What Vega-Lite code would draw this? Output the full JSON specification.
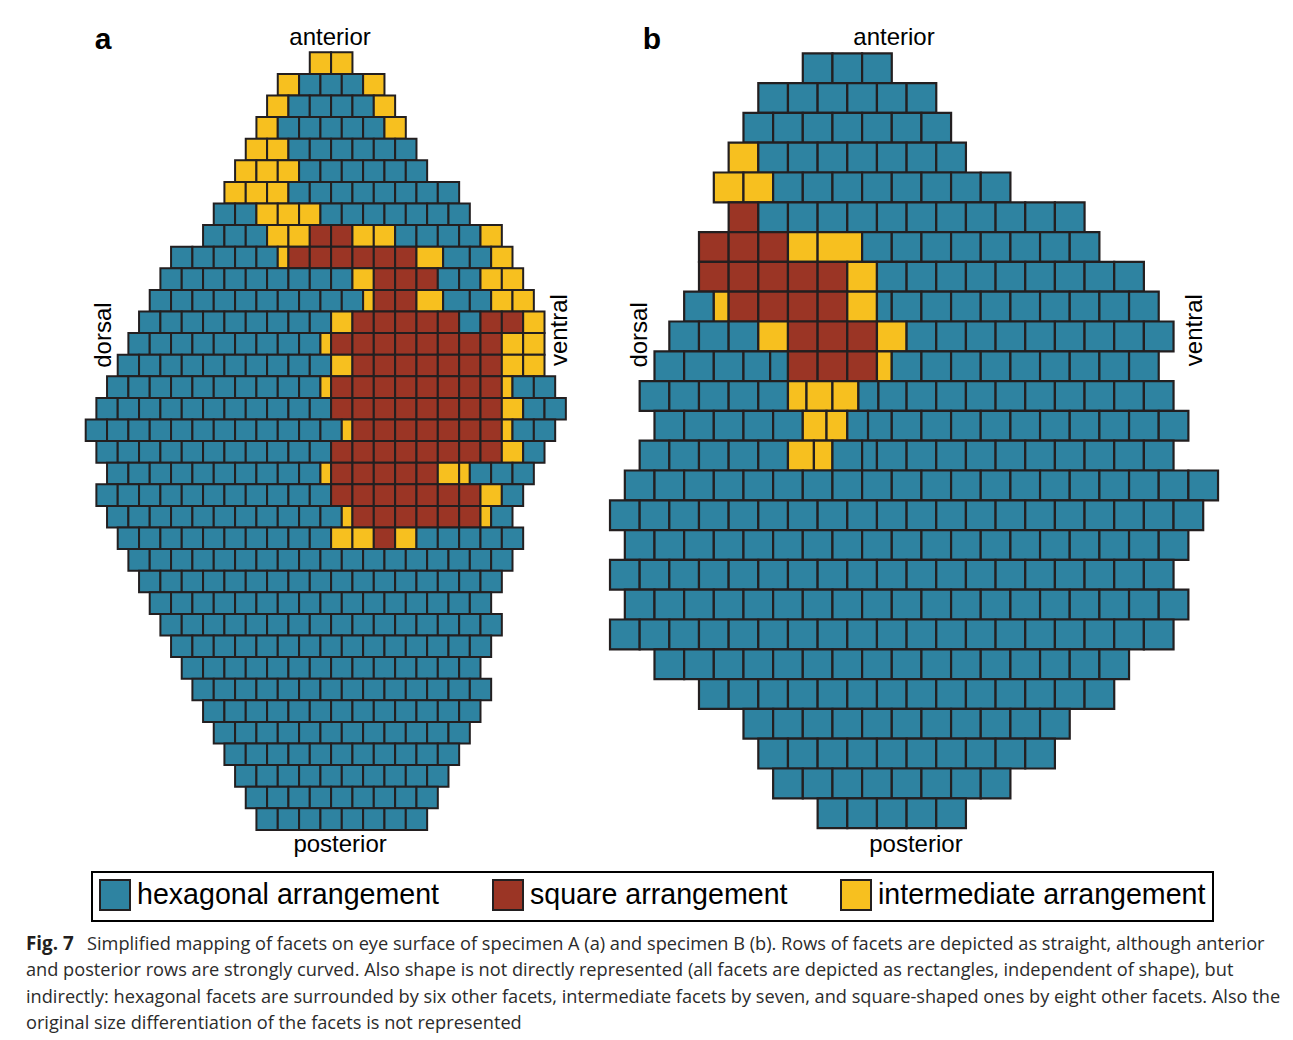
{
"$schema":"https://vega.github.io/schema/vega-lite/v6.json",
"padding":0,
"background":"white",
"config":{"view":{"stroke":null},"font":"Liberation Sans","legend":{"strokeWidth":2}},
"title":{"text":["and posterior rows are strongly curved. Also shape is not directly represented (all facets are depicted as rectangles, independent of shape), but","indirectly: hexagonal facets are surrounded by six other facets, intermediate facets by seven, and square-shaped ones by eight other facets. Also the","original size differentiation of the facets is not represented"],"orient":"bottom","anchor":"start","dx":26,"offset":8.3,"font":"Open Sans","fontSize":18.2,"fontWeight":"normal","color":"#2b2b2b","lineHeight":26.5},
"spacing":0,
"vconcat":[
{"title":{"text":"Simplified mapping of facets on eye surface of specimen A (a) and specimen B (b). Rows of facets are depicted as straight, although anterior","orient":"bottom","anchor":"start","dx":87,"offset":-18.2,"font":"Open Sans","fontSize":18.2,"fontWeight":"normal","color":"#2b2b2b"},
 "spacing":0,
 "vconcat":[
{"title":{"text":"Fig. 7","orient":"bottom","anchor":"start","dx":26,"offset":75,"font":"Open Sans","fontSize":18.8,"fontWeight":"bold","color":"#231f20"},
"spacing":0,
"hconcat":[
{"width":590,"height":860,
 "layer":[
  {"data":{"name":"a"},"mark":{"type":"rect","height":21.6,"stroke":"#231f20","strokeWidth":2},
   "encoding":{
    "x":{"field":"x","type":"quantitative","scale":{"domain":[-8.032,47.263],"nice":false,"zero":false},"axis":null},
    "x2":{"field":"x2"},
    "y":{"field":"r","type":"quantitative","scale":{"domain":[-2.921,36.894],"reverse":true,"nice":false,"zero":false},"axis":null},
    "color":{"field":"k","type":"nominal","scale":{"domain":["H","S","I"],"range":["#2e83a1","#9b3525","#f7c01f"]},
      "legend":{"orient":"none","legendX":92,"legendY":872,"direction":"horizontal","title":null,"symbolType":"square","symbolSize":900,"symbolStrokeColor":"#231f20","symbolStrokeWidth":2,"symbolOpacity":1,"labelFont":"Liberation Sans","labelFontSize":28.6,"labelColor":"#000","labelOffset":6,"labelLimit":0,"columnPadding":49,"padding":7,"strokeColor":"#000","labelExpr":"datum.label == 'H' ? 'hexagonal arrangement' : datum.label == 'S' ? 'square arrangement' : 'intermediate arrangement'"}}
   }},
  {"data":{"name":"la"},"transform":[{"filter":"datum.g == 'id'"}],"mark":{"type":"text","font":"Liberation Sans","fontSize":30,"fontWeight":"bold","align":"center","baseline":"alphabetic","color":"#000"},
   "encoding":{"x":{"field":"x","type":"quantitative","scale":{"domain":[-8.032,47.263],"nice":false,"zero":false},"axis":null},"y":{"field":"r","type":"quantitative","scale":{"domain":[-2.921,36.894],"reverse":true,"nice":false,"zero":false},"axis":null},"text":{"field":"t"}}},
  {"data":{"name":"la"},"transform":[{"filter":"datum.g == 'ap'"}],"mark":{"type":"text","font":"Liberation Sans","fontSize":24,"align":"center","baseline":"alphabetic","color":"#000"},
   "encoding":{"x":{"field":"x","type":"quantitative","scale":{"domain":[-8.032,47.263],"nice":false,"zero":false},"axis":null},"y":{"field":"r","type":"quantitative","scale":{"domain":[-2.921,36.894],"reverse":true,"nice":false,"zero":false},"axis":null},"text":{"field":"t"}}},
  {"data":{"name":"la"},"transform":[{"filter":"datum.g == 'dv'"}],"mark":{"type":"text","font":"Liberation Sans","fontSize":24,"angle":270,"align":"center","baseline":"middle","color":"#000"},
   "encoding":{"x":{"field":"x","type":"quantitative","scale":{"domain":[-8.032,47.263],"nice":false,"zero":false},"axis":null},"y":{"field":"r","type":"quantitative","scale":{"domain":[-2.921,36.894],"reverse":true,"nice":false,"zero":false},"axis":null},"text":{"field":"t"}}}
 ]},
{"width":703,"height":860,
 "layer":[
  {"data":{"name":"b"},"mark":{"type":"rect","height":29.8,"stroke":"#231f20","strokeWidth":2.2},
   "encoding":{
    "x":{"field":"x","type":"quantitative","scale":{"domain":[-1.349,46.055],"nice":false,"zero":false},"axis":null},
    "x2":{"field":"x2"},
    "y":{"field":"r","type":"quantitative","scale":{"domain":[-2.289,26.57],"reverse":true,"nice":false,"zero":false},"axis":null},
    "color":{"field":"k","type":"nominal","scale":{"domain":["H","S","I"],"range":["#2e83a1","#9b3525","#f7c01f"]}}
   }},
  {"data":{"name":"lb"},"transform":[{"filter":"datum.g == 'id'"}],"mark":{"type":"text","font":"Liberation Sans","fontSize":30,"fontWeight":"bold","align":"center","baseline":"alphabetic","color":"#000"},
   "encoding":{"x":{"field":"x","type":"quantitative","scale":{"domain":[-1.349,46.055],"nice":false,"zero":false},"axis":null},"y":{"field":"r","type":"quantitative","scale":{"domain":[-2.289,26.57],"reverse":true,"nice":false,"zero":false},"axis":null},"text":{"field":"t"}}},
  {"data":{"name":"lb"},"transform":[{"filter":"datum.g == 'ap'"}],"mark":{"type":"text","font":"Liberation Sans","fontSize":24,"align":"center","baseline":"alphabetic","color":"#000"},
   "encoding":{"x":{"field":"x","type":"quantitative","scale":{"domain":[-1.349,46.055],"nice":false,"zero":false},"axis":null},"y":{"field":"r","type":"quantitative","scale":{"domain":[-2.289,26.57],"reverse":true,"nice":false,"zero":false},"axis":null},"text":{"field":"t"}}},
  {"data":{"name":"lb"},"transform":[{"filter":"datum.g == 'dv'"}],"mark":{"type":"text","font":"Liberation Sans","fontSize":24,"angle":270,"align":"center","baseline":"middle","color":"#000"},
   "encoding":{"x":{"field":"x","type":"quantitative","scale":{"domain":[-1.349,46.055],"nice":false,"zero":false},"axis":null},"y":{"field":"r","type":"quantitative","scale":{"domain":[-2.289,26.57],"reverse":true,"nice":false,"zero":false},"axis":null},"text":{"field":"t"}}}
 ]}
]}
]}
],
"datasets":{
"a":[
{"r":0,"x":21,"x2":23,"k":"I"},{"r":0,"x":23,"x2":25,"k":"I"},
{"r":1,"x":18,"x2":20,"k":"I"},{"r":1,"x":20,"x2":22,"k":"H"},{"r":1,"x":22,"x2":24,"k":"H"},{"r":1,"x":24,"x2":26,"k":"H"},{"r":1,"x":26,"x2":28,"k":"I"},
{"r":2,"x":17,"x2":19,"k":"I"},{"r":2,"x":19,"x2":21,"k":"H"},{"r":2,"x":21,"x2":23,"k":"H"},{"r":2,"x":23,"x2":25,"k":"H"},{"r":2,"x":25,"x2":27,"k":"H"},{"r":2,"x":27,"x2":29,"k":"I"},
{"r":3,"x":16,"x2":18,"k":"I"},{"r":3,"x":18,"x2":20,"k":"H"},{"r":3,"x":20,"x2":22,"k":"H"},{"r":3,"x":22,"x2":24,"k":"H"},{"r":3,"x":24,"x2":26,"k":"H"},{"r":3,"x":26,"x2":28,"k":"H"},{"r":3,"x":28,"x2":30,"k":"I"},
{"r":4,"x":15,"x2":17,"k":"I"},{"r":4,"x":17,"x2":19,"k":"I"},{"r":4,"x":19,"x2":21,"k":"H"},{"r":4,"x":21,"x2":23,"k":"H"},{"r":4,"x":23,"x2":25,"k":"H"},{"r":4,"x":25,"x2":27,"k":"H"},{"r":4,"x":27,"x2":29,"k":"H"},{"r":4,"x":29,"x2":31,"k":"H"},
{"r":5,"x":14,"x2":16,"k":"I"},{"r":5,"x":16,"x2":18,"k":"I"},{"r":5,"x":18,"x2":20,"k":"I"},{"r":5,"x":20,"x2":22,"k":"H"},{"r":5,"x":22,"x2":24,"k":"H"},{"r":5,"x":24,"x2":26,"k":"H"},{"r":5,"x":26,"x2":28,"k":"H"},{"r":5,"x":28,"x2":30,"k":"H"},{"r":5,"x":30,"x2":32,"k":"H"},
{"r":6,"x":13,"x2":15,"k":"I"},{"r":6,"x":15,"x2":17,"k":"I"},{"r":6,"x":17,"x2":19,"k":"I"},{"r":6,"x":19,"x2":21,"k":"H"},{"r":6,"x":21,"x2":23,"k":"H"},{"r":6,"x":23,"x2":25,"k":"H"},{"r":6,"x":25,"x2":27,"k":"H"},{"r":6,"x":27,"x2":29,"k":"H"},{"r":6,"x":29,"x2":31,"k":"H"},{"r":6,"x":31,"x2":33,"k":"H"},{"r":6,"x":33,"x2":35,"k":"H"},
{"r":7,"x":12,"x2":14,"k":"H"},{"r":7,"x":14,"x2":16,"k":"H"},{"r":7,"x":16,"x2":18,"k":"I"},{"r":7,"x":18,"x2":20,"k":"I"},{"r":7,"x":20,"x2":22,"k":"I"},{"r":7,"x":22,"x2":24,"k":"H"},{"r":7,"x":24,"x2":26,"k":"H"},{"r":7,"x":26,"x2":28,"k":"H"},{"r":7,"x":28,"x2":30,"k":"H"},{"r":7,"x":30,"x2":32,"k":"H"},{"r":7,"x":32,"x2":34,"k":"H"},{"r":7,"x":34,"x2":36,"k":"H"},
{"r":8,"x":11,"x2":13,"k":"H"},{"r":8,"x":13,"x2":15,"k":"H"},{"r":8,"x":15,"x2":17,"k":"H"},{"r":8,"x":17,"x2":19,"k":"I"},{"r":8,"x":19,"x2":21,"k":"I"},{"r":8,"x":21,"x2":23,"k":"S"},{"r":8,"x":23,"x2":25,"k":"S"},{"r":8,"x":25,"x2":27,"k":"I"},{"r":8,"x":27,"x2":29,"k":"I"},{"r":8,"x":29,"x2":31,"k":"H"},{"r":8,"x":31,"x2":33,"k":"H"},{"r":8,"x":33,"x2":35,"k":"H"},{"r":8,"x":35,"x2":37,"k":"H"},{"r":8,"x":37,"x2":39,"k":"I"},
{"r":9,"x":8,"x2":10,"k":"H"},{"r":9,"x":10,"x2":12,"k":"H"},{"r":9,"x":12,"x2":14,"k":"H"},{"r":9,"x":14,"x2":16,"k":"H"},{"r":9,"x":16,"x2":18,"k":"H"},{"r":9,"x":18,"x2":19,"k":"I"},{"r":9,"x":19,"x2":21,"k":"S"},{"r":9,"x":21,"x2":23,"k":"S"},{"r":9,"x":23,"x2":25,"k":"S"},{"r":9,"x":25,"x2":27,"k":"S"},{"r":9,"x":27,"x2":29,"k":"S"},{"r":9,"x":29,"x2":31,"k":"S"},{"r":9,"x":31,"x2":33.5,"k":"I"},{"r":9,"x":33.5,"x2":36,"k":"H"},{"r":9,"x":36,"x2":38,"k":"H"},{"r":9,"x":38,"x2":40,"k":"I"},
{"r":10,"x":7,"x2":9,"k":"H"},{"r":10,"x":9,"x2":11,"k":"H"},{"r":10,"x":11,"x2":13,"k":"H"},{"r":10,"x":13,"x2":15,"k":"H"},{"r":10,"x":15,"x2":17,"k":"H"},{"r":10,"x":17,"x2":19,"k":"H"},{"r":10,"x":19,"x2":21,"k":"H"},{"r":10,"x":21,"x2":23,"k":"H"},{"r":10,"x":23,"x2":25,"k":"H"},{"r":10,"x":25,"x2":27,"k":"I"},{"r":10,"x":27,"x2":29,"k":"S"},{"r":10,"x":29,"x2":31,"k":"S"},{"r":10,"x":31,"x2":33,"k":"S"},{"r":10,"x":33,"x2":35,"k":"H"},{"r":10,"x":35,"x2":37,"k":"H"},{"r":10,"x":37,"x2":39,"k":"I"},{"r":10,"x":39,"x2":41,"k":"I"},
{"r":11,"x":6,"x2":8,"k":"H"},{"r":11,"x":8,"x2":10,"k":"H"},{"r":11,"x":10,"x2":12,"k":"H"},{"r":11,"x":12,"x2":14,"k":"H"},{"r":11,"x":14,"x2":16,"k":"H"},{"r":11,"x":16,"x2":18,"k":"H"},{"r":11,"x":18,"x2":20,"k":"H"},{"r":11,"x":20,"x2":22,"k":"H"},{"r":11,"x":22,"x2":24,"k":"H"},{"r":11,"x":24,"x2":26,"k":"H"},{"r":11,"x":26,"x2":27,"k":"I"},{"r":11,"x":27,"x2":29,"k":"S"},{"r":11,"x":29,"x2":31,"k":"S"},{"r":11,"x":31,"x2":33.5,"k":"I"},{"r":11,"x":33.5,"x2":36,"k":"H"},{"r":11,"x":36,"x2":38,"k":"H"},{"r":11,"x":38,"x2":40,"k":"I"},{"r":11,"x":40,"x2":42,"k":"I"},
{"r":12,"x":5,"x2":7,"k":"H"},{"r":12,"x":7,"x2":9,"k":"H"},{"r":12,"x":9,"x2":11,"k":"H"},{"r":12,"x":11,"x2":13,"k":"H"},{"r":12,"x":13,"x2":15,"k":"H"},{"r":12,"x":15,"x2":17,"k":"H"},{"r":12,"x":17,"x2":19,"k":"H"},{"r":12,"x":19,"x2":21,"k":"H"},{"r":12,"x":21,"x2":23,"k":"H"},{"r":12,"x":23,"x2":25,"k":"I"},{"r":12,"x":25,"x2":27,"k":"S"},{"r":12,"x":27,"x2":29,"k":"S"},{"r":12,"x":29,"x2":31,"k":"S"},{"r":12,"x":31,"x2":33,"k":"S"},{"r":12,"x":33,"x2":35,"k":"S"},{"r":12,"x":35,"x2":37,"k":"H"},{"r":12,"x":37,"x2":39,"k":"S"},{"r":12,"x":39,"x2":41,"k":"S"},{"r":12,"x":41,"x2":43,"k":"I"},
{"r":13,"x":4,"x2":6,"k":"H"},{"r":13,"x":6,"x2":8,"k":"H"},{"r":13,"x":8,"x2":10,"k":"H"},{"r":13,"x":10,"x2":12,"k":"H"},{"r":13,"x":12,"x2":14,"k":"H"},{"r":13,"x":14,"x2":16,"k":"H"},{"r":13,"x":16,"x2":18,"k":"H"},{"r":13,"x":18,"x2":20,"k":"H"},{"r":13,"x":20,"x2":22,"k":"H"},{"r":13,"x":22,"x2":23,"k":"I"},{"r":13,"x":23,"x2":25,"k":"S"},{"r":13,"x":25,"x2":27,"k":"S"},{"r":13,"x":27,"x2":29,"k":"S"},{"r":13,"x":29,"x2":31,"k":"S"},{"r":13,"x":31,"x2":33,"k":"S"},{"r":13,"x":33,"x2":35,"k":"S"},{"r":13,"x":35,"x2":37,"k":"S"},{"r":13,"x":37,"x2":39,"k":"S"},{"r":13,"x":39,"x2":41,"k":"I"},{"r":13,"x":41,"x2":43,"k":"I"},
{"r":14,"x":3,"x2":5,"k":"H"},{"r":14,"x":5,"x2":7,"k":"H"},{"r":14,"x":7,"x2":9,"k":"H"},{"r":14,"x":9,"x2":11,"k":"H"},{"r":14,"x":11,"x2":13,"k":"H"},{"r":14,"x":13,"x2":15,"k":"H"},{"r":14,"x":15,"x2":17,"k":"H"},{"r":14,"x":17,"x2":19,"k":"H"},{"r":14,"x":19,"x2":21,"k":"H"},{"r":14,"x":21,"x2":23,"k":"H"},{"r":14,"x":23,"x2":25,"k":"I"},{"r":14,"x":25,"x2":27,"k":"S"},{"r":14,"x":27,"x2":29,"k":"S"},{"r":14,"x":29,"x2":31,"k":"S"},{"r":14,"x":31,"x2":33,"k":"S"},{"r":14,"x":33,"x2":35,"k":"S"},{"r":14,"x":35,"x2":37,"k":"S"},{"r":14,"x":37,"x2":39,"k":"S"},{"r":14,"x":39,"x2":41,"k":"I"},{"r":14,"x":41,"x2":43,"k":"I"},
{"r":15,"x":2,"x2":4,"k":"H"},{"r":15,"x":4,"x2":6,"k":"H"},{"r":15,"x":6,"x2":8,"k":"H"},{"r":15,"x":8,"x2":10,"k":"H"},{"r":15,"x":10,"x2":12,"k":"H"},{"r":15,"x":12,"x2":14,"k":"H"},{"r":15,"x":14,"x2":16,"k":"H"},{"r":15,"x":16,"x2":18,"k":"H"},{"r":15,"x":18,"x2":20,"k":"H"},{"r":15,"x":20,"x2":22,"k":"H"},{"r":15,"x":22,"x2":23,"k":"I"},{"r":15,"x":23,"x2":25,"k":"S"},{"r":15,"x":25,"x2":27,"k":"S"},{"r":15,"x":27,"x2":29,"k":"S"},{"r":15,"x":29,"x2":31,"k":"S"},{"r":15,"x":31,"x2":33,"k":"S"},{"r":15,"x":33,"x2":35,"k":"S"},{"r":15,"x":35,"x2":37,"k":"S"},{"r":15,"x":37,"x2":39,"k":"S"},{"r":15,"x":39,"x2":40,"k":"I"},{"r":15,"x":40,"x2":42,"k":"H"},{"r":15,"x":42,"x2":44,"k":"H"},
{"r":16,"x":1,"x2":3,"k":"H"},{"r":16,"x":3,"x2":5,"k":"H"},{"r":16,"x":5,"x2":7,"k":"H"},{"r":16,"x":7,"x2":9,"k":"H"},{"r":16,"x":9,"x2":11,"k":"H"},{"r":16,"x":11,"x2":13,"k":"H"},{"r":16,"x":13,"x2":15,"k":"H"},{"r":16,"x":15,"x2":17,"k":"H"},{"r":16,"x":17,"x2":19,"k":"H"},{"r":16,"x":19,"x2":21,"k":"H"},{"r":16,"x":21,"x2":23,"k":"H"},{"r":16,"x":23,"x2":25,"k":"S"},{"r":16,"x":25,"x2":27,"k":"S"},{"r":16,"x":27,"x2":29,"k":"S"},{"r":16,"x":29,"x2":31,"k":"S"},{"r":16,"x":31,"x2":33,"k":"S"},{"r":16,"x":33,"x2":35,"k":"S"},{"r":16,"x":35,"x2":37,"k":"S"},{"r":16,"x":37,"x2":39,"k":"S"},{"r":16,"x":39,"x2":41,"k":"I"},{"r":16,"x":41,"x2":43,"k":"H"},{"r":16,"x":43,"x2":45,"k":"H"},
{"r":17,"x":0,"x2":2,"k":"H"},{"r":17,"x":2,"x2":4,"k":"H"},{"r":17,"x":4,"x2":6,"k":"H"},{"r":17,"x":6,"x2":8,"k":"H"},{"r":17,"x":8,"x2":10,"k":"H"},{"r":17,"x":10,"x2":12,"k":"H"},{"r":17,"x":12,"x2":14,"k":"H"},{"r":17,"x":14,"x2":16,"k":"H"},{"r":17,"x":16,"x2":18,"k":"H"},{"r":17,"x":18,"x2":20,"k":"H"},{"r":17,"x":20,"x2":22,"k":"H"},{"r":17,"x":22,"x2":24,"k":"H"},{"r":17,"x":24,"x2":25,"k":"I"},{"r":17,"x":25,"x2":27,"k":"S"},{"r":17,"x":27,"x2":29,"k":"S"},{"r":17,"x":29,"x2":31,"k":"S"},{"r":17,"x":31,"x2":33,"k":"S"},{"r":17,"x":33,"x2":35,"k":"S"},{"r":17,"x":35,"x2":37,"k":"S"},{"r":17,"x":37,"x2":39,"k":"S"},{"r":17,"x":39,"x2":40,"k":"I"},{"r":17,"x":40,"x2":42,"k":"H"},{"r":17,"x":42,"x2":44,"k":"H"},
{"r":18,"x":1,"x2":3,"k":"H"},{"r":18,"x":3,"x2":5,"k":"H"},{"r":18,"x":5,"x2":7,"k":"H"},{"r":18,"x":7,"x2":9,"k":"H"},{"r":18,"x":9,"x2":11,"k":"H"},{"r":18,"x":11,"x2":13,"k":"H"},{"r":18,"x":13,"x2":15,"k":"H"},{"r":18,"x":15,"x2":17,"k":"H"},{"r":18,"x":17,"x2":19,"k":"H"},{"r":18,"x":19,"x2":21,"k":"H"},{"r":18,"x":21,"x2":23,"k":"H"},{"r":18,"x":23,"x2":25,"k":"S"},{"r":18,"x":25,"x2":27,"k":"S"},{"r":18,"x":27,"x2":29,"k":"S"},{"r":18,"x":29,"x2":31,"k":"S"},{"r":18,"x":31,"x2":33,"k":"S"},{"r":18,"x":33,"x2":35,"k":"S"},{"r":18,"x":35,"x2":37,"k":"S"},{"r":18,"x":37,"x2":39,"k":"S"},{"r":18,"x":39,"x2":41,"k":"I"},{"r":18,"x":41,"x2":43,"k":"H"},
{"r":19,"x":2,"x2":4,"k":"H"},{"r":19,"x":4,"x2":6,"k":"H"},{"r":19,"x":6,"x2":8,"k":"H"},{"r":19,"x":8,"x2":10,"k":"H"},{"r":19,"x":10,"x2":12,"k":"H"},{"r":19,"x":12,"x2":14,"k":"H"},{"r":19,"x":14,"x2":16,"k":"H"},{"r":19,"x":16,"x2":18,"k":"H"},{"r":19,"x":18,"x2":20,"k":"H"},{"r":19,"x":20,"x2":22,"k":"H"},{"r":19,"x":22,"x2":23,"k":"I"},{"r":19,"x":23,"x2":25,"k":"S"},{"r":19,"x":25,"x2":27,"k":"S"},{"r":19,"x":27,"x2":29,"k":"S"},{"r":19,"x":29,"x2":31,"k":"S"},{"r":19,"x":31,"x2":33,"k":"S"},{"r":19,"x":33,"x2":35,"k":"I"},{"r":19,"x":35,"x2":36,"k":"I"},{"r":19,"x":36,"x2":38,"k":"H"},{"r":19,"x":38,"x2":40,"k":"H"},{"r":19,"x":40,"x2":42,"k":"H"},
{"r":20,"x":1,"x2":3,"k":"H"},{"r":20,"x":3,"x2":5,"k":"H"},{"r":20,"x":5,"x2":7,"k":"H"},{"r":20,"x":7,"x2":9,"k":"H"},{"r":20,"x":9,"x2":11,"k":"H"},{"r":20,"x":11,"x2":13,"k":"H"},{"r":20,"x":13,"x2":15,"k":"H"},{"r":20,"x":15,"x2":17,"k":"H"},{"r":20,"x":17,"x2":19,"k":"H"},{"r":20,"x":19,"x2":21,"k":"H"},{"r":20,"x":21,"x2":23,"k":"H"},{"r":20,"x":23,"x2":25,"k":"S"},{"r":20,"x":25,"x2":27,"k":"S"},{"r":20,"x":27,"x2":29,"k":"S"},{"r":20,"x":29,"x2":31,"k":"S"},{"r":20,"x":31,"x2":33,"k":"S"},{"r":20,"x":33,"x2":35,"k":"S"},{"r":20,"x":35,"x2":37,"k":"S"},{"r":20,"x":37,"x2":39,"k":"I"},{"r":20,"x":39,"x2":41,"k":"H"},
{"r":21,"x":2,"x2":4,"k":"H"},{"r":21,"x":4,"x2":6,"k":"H"},{"r":21,"x":6,"x2":8,"k":"H"},{"r":21,"x":8,"x2":10,"k":"H"},{"r":21,"x":10,"x2":12,"k":"H"},{"r":21,"x":12,"x2":14,"k":"H"},{"r":21,"x":14,"x2":16,"k":"H"},{"r":21,"x":16,"x2":18,"k":"H"},{"r":21,"x":18,"x2":20,"k":"H"},{"r":21,"x":20,"x2":22,"k":"H"},{"r":21,"x":22,"x2":24,"k":"H"},{"r":21,"x":24,"x2":25,"k":"I"},{"r":21,"x":25,"x2":27,"k":"S"},{"r":21,"x":27,"x2":29,"k":"S"},{"r":21,"x":29,"x2":31,"k":"S"},{"r":21,"x":31,"x2":33,"k":"S"},{"r":21,"x":33,"x2":35,"k":"S"},{"r":21,"x":35,"x2":37,"k":"S"},{"r":21,"x":37,"x2":38,"k":"I"},{"r":21,"x":38,"x2":40,"k":"H"},
{"r":22,"x":3,"x2":5,"k":"H"},{"r":22,"x":5,"x2":7,"k":"H"},{"r":22,"x":7,"x2":9,"k":"H"},{"r":22,"x":9,"x2":11,"k":"H"},{"r":22,"x":11,"x2":13,"k":"H"},{"r":22,"x":13,"x2":15,"k":"H"},{"r":22,"x":15,"x2":17,"k":"H"},{"r":22,"x":17,"x2":19,"k":"H"},{"r":22,"x":19,"x2":21,"k":"H"},{"r":22,"x":21,"x2":23,"k":"H"},{"r":22,"x":23,"x2":25,"k":"I"},{"r":22,"x":25,"x2":27,"k":"I"},{"r":22,"x":27,"x2":29,"k":"S"},{"r":22,"x":29,"x2":31,"k":"I"},{"r":22,"x":31,"x2":33,"k":"H"},{"r":22,"x":33,"x2":35,"k":"H"},{"r":22,"x":35,"x2":37,"k":"H"},{"r":22,"x":37,"x2":39,"k":"H"},{"r":22,"x":39,"x2":41,"k":"H"},
{"r":23,"x":4,"x2":6,"k":"H"},{"r":23,"x":6,"x2":8,"k":"H"},{"r":23,"x":8,"x2":10,"k":"H"},{"r":23,"x":10,"x2":12,"k":"H"},{"r":23,"x":12,"x2":14,"k":"H"},{"r":23,"x":14,"x2":16,"k":"H"},{"r":23,"x":16,"x2":18,"k":"H"},{"r":23,"x":18,"x2":20,"k":"H"},{"r":23,"x":20,"x2":22,"k":"H"},{"r":23,"x":22,"x2":24,"k":"H"},{"r":23,"x":24,"x2":26,"k":"H"},{"r":23,"x":26,"x2":28,"k":"H"},{"r":23,"x":28,"x2":30,"k":"H"},{"r":23,"x":30,"x2":32,"k":"H"},{"r":23,"x":32,"x2":34,"k":"H"},{"r":23,"x":34,"x2":36,"k":"H"},{"r":23,"x":36,"x2":38,"k":"H"},{"r":23,"x":38,"x2":40,"k":"H"},
{"r":24,"x":5,"x2":7,"k":"H"},{"r":24,"x":7,"x2":9,"k":"H"},{"r":24,"x":9,"x2":11,"k":"H"},{"r":24,"x":11,"x2":13,"k":"H"},{"r":24,"x":13,"x2":15,"k":"H"},{"r":24,"x":15,"x2":17,"k":"H"},{"r":24,"x":17,"x2":19,"k":"H"},{"r":24,"x":19,"x2":21,"k":"H"},{"r":24,"x":21,"x2":23,"k":"H"},{"r":24,"x":23,"x2":25,"k":"H"},{"r":24,"x":25,"x2":27,"k":"H"},{"r":24,"x":27,"x2":29,"k":"H"},{"r":24,"x":29,"x2":31,"k":"H"},{"r":24,"x":31,"x2":33,"k":"H"},{"r":24,"x":33,"x2":35,"k":"H"},{"r":24,"x":35,"x2":37,"k":"H"},{"r":24,"x":37,"x2":39,"k":"H"},
{"r":25,"x":6,"x2":8,"k":"H"},{"r":25,"x":8,"x2":10,"k":"H"},{"r":25,"x":10,"x2":12,"k":"H"},{"r":25,"x":12,"x2":14,"k":"H"},{"r":25,"x":14,"x2":16,"k":"H"},{"r":25,"x":16,"x2":18,"k":"H"},{"r":25,"x":18,"x2":20,"k":"H"},{"r":25,"x":20,"x2":22,"k":"H"},{"r":25,"x":22,"x2":24,"k":"H"},{"r":25,"x":24,"x2":26,"k":"H"},{"r":25,"x":26,"x2":28,"k":"H"},{"r":25,"x":28,"x2":30,"k":"H"},{"r":25,"x":30,"x2":32,"k":"H"},{"r":25,"x":32,"x2":34,"k":"H"},{"r":25,"x":34,"x2":36,"k":"H"},{"r":25,"x":36,"x2":38,"k":"H"},
{"r":26,"x":7,"x2":9,"k":"H"},{"r":26,"x":9,"x2":11,"k":"H"},{"r":26,"x":11,"x2":13,"k":"H"},{"r":26,"x":13,"x2":15,"k":"H"},{"r":26,"x":15,"x2":17,"k":"H"},{"r":26,"x":17,"x2":19,"k":"H"},{"r":26,"x":19,"x2":21,"k":"H"},{"r":26,"x":21,"x2":23,"k":"H"},{"r":26,"x":23,"x2":25,"k":"H"},{"r":26,"x":25,"x2":27,"k":"H"},{"r":26,"x":27,"x2":29,"k":"H"},{"r":26,"x":29,"x2":31,"k":"H"},{"r":26,"x":31,"x2":33,"k":"H"},{"r":26,"x":33,"x2":35,"k":"H"},{"r":26,"x":35,"x2":37,"k":"H"},{"r":26,"x":37,"x2":39,"k":"H"},
{"r":27,"x":8,"x2":10,"k":"H"},{"r":27,"x":10,"x2":12,"k":"H"},{"r":27,"x":12,"x2":14,"k":"H"},{"r":27,"x":14,"x2":16,"k":"H"},{"r":27,"x":16,"x2":18,"k":"H"},{"r":27,"x":18,"x2":20,"k":"H"},{"r":27,"x":20,"x2":22,"k":"H"},{"r":27,"x":22,"x2":24,"k":"H"},{"r":27,"x":24,"x2":26,"k":"H"},{"r":27,"x":26,"x2":28,"k":"H"},{"r":27,"x":28,"x2":30,"k":"H"},{"r":27,"x":30,"x2":32,"k":"H"},{"r":27,"x":32,"x2":34,"k":"H"},{"r":27,"x":34,"x2":36,"k":"H"},{"r":27,"x":36,"x2":38,"k":"H"},
{"r":28,"x":9,"x2":11,"k":"H"},{"r":28,"x":11,"x2":13,"k":"H"},{"r":28,"x":13,"x2":15,"k":"H"},{"r":28,"x":15,"x2":17,"k":"H"},{"r":28,"x":17,"x2":19,"k":"H"},{"r":28,"x":19,"x2":21,"k":"H"},{"r":28,"x":21,"x2":23,"k":"H"},{"r":28,"x":23,"x2":25,"k":"H"},{"r":28,"x":25,"x2":27,"k":"H"},{"r":28,"x":27,"x2":29,"k":"H"},{"r":28,"x":29,"x2":31,"k":"H"},{"r":28,"x":31,"x2":33,"k":"H"},{"r":28,"x":33,"x2":35,"k":"H"},{"r":28,"x":35,"x2":37,"k":"H"},
{"r":29,"x":10,"x2":12,"k":"H"},{"r":29,"x":12,"x2":14,"k":"H"},{"r":29,"x":14,"x2":16,"k":"H"},{"r":29,"x":16,"x2":18,"k":"H"},{"r":29,"x":18,"x2":20,"k":"H"},{"r":29,"x":20,"x2":22,"k":"H"},{"r":29,"x":22,"x2":24,"k":"H"},{"r":29,"x":24,"x2":26,"k":"H"},{"r":29,"x":26,"x2":28,"k":"H"},{"r":29,"x":28,"x2":30,"k":"H"},{"r":29,"x":30,"x2":32,"k":"H"},{"r":29,"x":32,"x2":34,"k":"H"},{"r":29,"x":34,"x2":36,"k":"H"},{"r":29,"x":36,"x2":38,"k":"H"},
{"r":30,"x":11,"x2":13,"k":"H"},{"r":30,"x":13,"x2":15,"k":"H"},{"r":30,"x":15,"x2":17,"k":"H"},{"r":30,"x":17,"x2":19,"k":"H"},{"r":30,"x":19,"x2":21,"k":"H"},{"r":30,"x":21,"x2":23,"k":"H"},{"r":30,"x":23,"x2":25,"k":"H"},{"r":30,"x":25,"x2":27,"k":"H"},{"r":30,"x":27,"x2":29,"k":"H"},{"r":30,"x":29,"x2":31,"k":"H"},{"r":30,"x":31,"x2":33,"k":"H"},{"r":30,"x":33,"x2":35,"k":"H"},{"r":30,"x":35,"x2":37,"k":"H"},
{"r":31,"x":12,"x2":14,"k":"H"},{"r":31,"x":14,"x2":16,"k":"H"},{"r":31,"x":16,"x2":18,"k":"H"},{"r":31,"x":18,"x2":20,"k":"H"},{"r":31,"x":20,"x2":22,"k":"H"},{"r":31,"x":22,"x2":24,"k":"H"},{"r":31,"x":24,"x2":26,"k":"H"},{"r":31,"x":26,"x2":28,"k":"H"},{"r":31,"x":28,"x2":30,"k":"H"},{"r":31,"x":30,"x2":32,"k":"H"},{"r":31,"x":32,"x2":34,"k":"H"},{"r":31,"x":34,"x2":36,"k":"H"},
{"r":32,"x":13,"x2":15,"k":"H"},{"r":32,"x":15,"x2":17,"k":"H"},{"r":32,"x":17,"x2":19,"k":"H"},{"r":32,"x":19,"x2":21,"k":"H"},{"r":32,"x":21,"x2":23,"k":"H"},{"r":32,"x":23,"x2":25,"k":"H"},{"r":32,"x":25,"x2":27,"k":"H"},{"r":32,"x":27,"x2":29,"k":"H"},{"r":32,"x":29,"x2":31,"k":"H"},{"r":32,"x":31,"x2":33,"k":"H"},{"r":32,"x":33,"x2":35,"k":"H"},
{"r":33,"x":14,"x2":16,"k":"H"},{"r":33,"x":16,"x2":18,"k":"H"},{"r":33,"x":18,"x2":20,"k":"H"},{"r":33,"x":20,"x2":22,"k":"H"},{"r":33,"x":22,"x2":24,"k":"H"},{"r":33,"x":24,"x2":26,"k":"H"},{"r":33,"x":26,"x2":28,"k":"H"},{"r":33,"x":28,"x2":30,"k":"H"},{"r":33,"x":30,"x2":32,"k":"H"},{"r":33,"x":32,"x2":34,"k":"H"},
{"r":34,"x":15,"x2":17,"k":"H"},{"r":34,"x":17,"x2":19,"k":"H"},{"r":34,"x":19,"x2":21,"k":"H"},{"r":34,"x":21,"x2":23,"k":"H"},{"r":34,"x":23,"x2":25,"k":"H"},{"r":34,"x":25,"x2":27,"k":"H"},{"r":34,"x":27,"x2":29,"k":"H"},{"r":34,"x":29,"x2":31,"k":"H"},{"r":34,"x":31,"x2":33,"k":"H"},
{"r":35,"x":16,"x2":18,"k":"H"},{"r":35,"x":18,"x2":20,"k":"H"},{"r":35,"x":20,"x2":22,"k":"H"},{"r":35,"x":22,"x2":24,"k":"H"},{"r":35,"x":24,"x2":26,"k":"H"},{"r":35,"x":26,"x2":28,"k":"H"},{"r":35,"x":28,"x2":30,"k":"H"},{"r":35,"x":30,"x2":32,"k":"H"}
],
"b":[
{"r":0,"x":13,"x2":15,"k":"H"},{"r":0,"x":15,"x2":17,"k":"H"},{"r":0,"x":17,"x2":19,"k":"H"},
{"r":1,"x":10,"x2":12,"k":"H"},{"r":1,"x":12,"x2":14,"k":"H"},{"r":1,"x":14,"x2":16,"k":"H"},{"r":1,"x":16,"x2":18,"k":"H"},{"r":1,"x":18,"x2":20,"k":"H"},{"r":1,"x":20,"x2":22,"k":"H"},
{"r":2,"x":9,"x2":11,"k":"H"},{"r":2,"x":11,"x2":13,"k":"H"},{"r":2,"x":13,"x2":15,"k":"H"},{"r":2,"x":15,"x2":17,"k":"H"},{"r":2,"x":17,"x2":19,"k":"H"},{"r":2,"x":19,"x2":21,"k":"H"},{"r":2,"x":21,"x2":23,"k":"H"},
{"r":3,"x":8,"x2":10,"k":"I"},{"r":3,"x":10,"x2":12,"k":"H"},{"r":3,"x":12,"x2":14,"k":"H"},{"r":3,"x":14,"x2":16,"k":"H"},{"r":3,"x":16,"x2":18,"k":"H"},{"r":3,"x":18,"x2":20,"k":"H"},{"r":3,"x":20,"x2":22,"k":"H"},{"r":3,"x":22,"x2":24,"k":"H"},
{"r":4,"x":7,"x2":9,"k":"I"},{"r":4,"x":9,"x2":11,"k":"I"},{"r":4,"x":11,"x2":13,"k":"H"},{"r":4,"x":13,"x2":15,"k":"H"},{"r":4,"x":15,"x2":17,"k":"H"},{"r":4,"x":17,"x2":19,"k":"H"},{"r":4,"x":19,"x2":21,"k":"H"},{"r":4,"x":21,"x2":23,"k":"H"},{"r":4,"x":23,"x2":25,"k":"H"},{"r":4,"x":25,"x2":27,"k":"H"},
{"r":5,"x":8,"x2":10,"k":"S"},{"r":5,"x":10,"x2":12,"k":"H"},{"r":5,"x":12,"x2":14,"k":"H"},{"r":5,"x":14,"x2":16,"k":"H"},{"r":5,"x":16,"x2":18,"k":"H"},{"r":5,"x":18,"x2":20,"k":"H"},{"r":5,"x":20,"x2":22,"k":"H"},{"r":5,"x":22,"x2":24,"k":"H"},{"r":5,"x":24,"x2":26,"k":"H"},{"r":5,"x":26,"x2":28,"k":"H"},{"r":5,"x":28,"x2":30,"k":"H"},{"r":5,"x":30,"x2":32,"k":"H"},
{"r":6,"x":6,"x2":8,"k":"S"},{"r":6,"x":8,"x2":10,"k":"S"},{"r":6,"x":10,"x2":12,"k":"S"},{"r":6,"x":12,"x2":14,"k":"I"},{"r":6,"x":14,"x2":17,"k":"I"},{"r":6,"x":17,"x2":19,"k":"H"},{"r":6,"x":19,"x2":21,"k":"H"},{"r":6,"x":21,"x2":23,"k":"H"},{"r":6,"x":23,"x2":25,"k":"H"},{"r":6,"x":25,"x2":27,"k":"H"},{"r":6,"x":27,"x2":29,"k":"H"},{"r":6,"x":29,"x2":31,"k":"H"},{"r":6,"x":31,"x2":33,"k":"H"},
{"r":7,"x":6,"x2":8,"k":"S"},{"r":7,"x":8,"x2":10,"k":"S"},{"r":7,"x":10,"x2":12,"k":"S"},{"r":7,"x":12,"x2":14,"k":"S"},{"r":7,"x":14,"x2":16,"k":"S"},{"r":7,"x":16,"x2":18,"k":"I"},{"r":7,"x":18,"x2":20,"k":"H"},{"r":7,"x":20,"x2":22,"k":"H"},{"r":7,"x":22,"x2":24,"k":"H"},{"r":7,"x":24,"x2":26,"k":"H"},{"r":7,"x":26,"x2":28,"k":"H"},{"r":7,"x":28,"x2":30,"k":"H"},{"r":7,"x":30,"x2":32,"k":"H"},{"r":7,"x":32,"x2":34,"k":"H"},{"r":7,"x":34,"x2":36,"k":"H"},
{"r":8,"x":5,"x2":7,"k":"H"},{"r":8,"x":7,"x2":8,"k":"I"},{"r":8,"x":8,"x2":10,"k":"S"},{"r":8,"x":10,"x2":12,"k":"S"},{"r":8,"x":12,"x2":14,"k":"S"},{"r":8,"x":14,"x2":16,"k":"S"},{"r":8,"x":16,"x2":18,"k":"I"},{"r":8,"x":18,"x2":19,"k":"H"},{"r":8,"x":19,"x2":21,"k":"H"},{"r":8,"x":21,"x2":23,"k":"H"},{"r":8,"x":23,"x2":25,"k":"H"},{"r":8,"x":25,"x2":27,"k":"H"},{"r":8,"x":27,"x2":29,"k":"H"},{"r":8,"x":29,"x2":31,"k":"H"},{"r":8,"x":31,"x2":33,"k":"H"},{"r":8,"x":33,"x2":35,"k":"H"},{"r":8,"x":35,"x2":37,"k":"H"},
{"r":9,"x":4,"x2":6,"k":"H"},{"r":9,"x":6,"x2":8,"k":"H"},{"r":9,"x":8,"x2":10,"k":"H"},{"r":9,"x":10,"x2":12,"k":"I"},{"r":9,"x":12,"x2":14,"k":"S"},{"r":9,"x":14,"x2":16,"k":"S"},{"r":9,"x":16,"x2":18,"k":"S"},{"r":9,"x":18,"x2":20,"k":"I"},{"r":9,"x":20,"x2":22,"k":"H"},{"r":9,"x":22,"x2":24,"k":"H"},{"r":9,"x":24,"x2":26,"k":"H"},{"r":9,"x":26,"x2":28,"k":"H"},{"r":9,"x":28,"x2":30,"k":"H"},{"r":9,"x":30,"x2":32,"k":"H"},{"r":9,"x":32,"x2":34,"k":"H"},{"r":9,"x":34,"x2":36,"k":"H"},{"r":9,"x":36,"x2":38,"k":"H"},
{"r":10,"x":3,"x2":5,"k":"H"},{"r":10,"x":5,"x2":7,"k":"H"},{"r":10,"x":7,"x2":9,"k":"H"},{"r":10,"x":9,"x2":10.8,"k":"H"},{"r":10,"x":10.8,"x2":12,"k":"H"},{"r":10,"x":12,"x2":14,"k":"S"},{"r":10,"x":14,"x2":16,"k":"S"},{"r":10,"x":16,"x2":18,"k":"S"},{"r":10,"x":18,"x2":19,"k":"I"},{"r":10,"x":19,"x2":21,"k":"H"},{"r":10,"x":21,"x2":23,"k":"H"},{"r":10,"x":23,"x2":25,"k":"H"},{"r":10,"x":25,"x2":27,"k":"H"},{"r":10,"x":27,"x2":29,"k":"H"},{"r":10,"x":29,"x2":31,"k":"H"},{"r":10,"x":31,"x2":33,"k":"H"},{"r":10,"x":33,"x2":35,"k":"H"},{"r":10,"x":35,"x2":37,"k":"H"},
{"r":11,"x":2,"x2":4,"k":"H"},{"r":11,"x":4,"x2":6,"k":"H"},{"r":11,"x":6,"x2":8,"k":"H"},{"r":11,"x":8,"x2":10,"k":"H"},{"r":11,"x":10,"x2":12,"k":"H"},{"r":11,"x":12,"x2":13.25,"k":"I"},{"r":11,"x":13.25,"x2":15,"k":"I"},{"r":11,"x":15,"x2":16.75,"k":"I"},{"r":11,"x":16.75,"x2":18.1,"k":"H"},{"r":11,"x":18.1,"x2":20,"k":"H"},{"r":11,"x":20,"x2":22,"k":"H"},{"r":11,"x":22,"x2":24,"k":"H"},{"r":11,"x":24,"x2":26,"k":"H"},{"r":11,"x":26,"x2":28,"k":"H"},{"r":11,"x":28,"x2":30,"k":"H"},{"r":11,"x":30,"x2":32,"k":"H"},{"r":11,"x":32,"x2":34,"k":"H"},{"r":11,"x":34,"x2":36,"k":"H"},{"r":11,"x":36,"x2":38,"k":"H"},
{"r":12,"x":3,"x2":5,"k":"H"},{"r":12,"x":5,"x2":7,"k":"H"},{"r":12,"x":7,"x2":9,"k":"H"},{"r":12,"x":9,"x2":11,"k":"H"},{"r":12,"x":11,"x2":13,"k":"H"},{"r":12,"x":13,"x2":14.6,"k":"I"},{"r":12,"x":14.6,"x2":16,"k":"I"},{"r":12,"x":16,"x2":17.4,"k":"H"},{"r":12,"x":17.4,"x2":19,"k":"H"},{"r":12,"x":19,"x2":21,"k":"H"},{"r":12,"x":21,"x2":23,"k":"H"},{"r":12,"x":23,"x2":25,"k":"H"},{"r":12,"x":25,"x2":27,"k":"H"},{"r":12,"x":27,"x2":29,"k":"H"},{"r":12,"x":29,"x2":31,"k":"H"},{"r":12,"x":31,"x2":33,"k":"H"},{"r":12,"x":33,"x2":35,"k":"H"},{"r":12,"x":35,"x2":37,"k":"H"},{"r":12,"x":37,"x2":39,"k":"H"},
{"r":13,"x":2,"x2":4,"k":"H"},{"r":13,"x":4,"x2":6,"k":"H"},{"r":13,"x":6,"x2":8,"k":"H"},{"r":13,"x":8,"x2":10,"k":"H"},{"r":13,"x":10,"x2":12,"k":"H"},{"r":13,"x":12,"x2":13.75,"k":"I"},{"r":13,"x":13.75,"x2":15,"k":"I"},{"r":13,"x":15,"x2":17,"k":"H"},{"r":13,"x":17,"x2":18,"k":"H"},{"r":13,"x":18,"x2":20,"k":"H"},{"r":13,"x":20,"x2":22,"k":"H"},{"r":13,"x":22,"x2":24,"k":"H"},{"r":13,"x":24,"x2":26,"k":"H"},{"r":13,"x":26,"x2":28,"k":"H"},{"r":13,"x":28,"x2":30,"k":"H"},{"r":13,"x":30,"x2":32,"k":"H"},{"r":13,"x":32,"x2":34,"k":"H"},{"r":13,"x":34,"x2":36,"k":"H"},{"r":13,"x":36,"x2":38,"k":"H"},
{"r":14,"x":1,"x2":3,"k":"H"},{"r":14,"x":3,"x2":5,"k":"H"},{"r":14,"x":5,"x2":7,"k":"H"},{"r":14,"x":7,"x2":9,"k":"H"},{"r":14,"x":9,"x2":11,"k":"H"},{"r":14,"x":11,"x2":13,"k":"H"},{"r":14,"x":13,"x2":15,"k":"H"},{"r":14,"x":15,"x2":17,"k":"H"},{"r":14,"x":17,"x2":19,"k":"H"},{"r":14,"x":19,"x2":21,"k":"H"},{"r":14,"x":21,"x2":23,"k":"H"},{"r":14,"x":23,"x2":25,"k":"H"},{"r":14,"x":25,"x2":27,"k":"H"},{"r":14,"x":27,"x2":29,"k":"H"},{"r":14,"x":29,"x2":31,"k":"H"},{"r":14,"x":31,"x2":33,"k":"H"},{"r":14,"x":33,"x2":35,"k":"H"},{"r":14,"x":35,"x2":37,"k":"H"},{"r":14,"x":37,"x2":39,"k":"H"},{"r":14,"x":39,"x2":41,"k":"H"},
{"r":15,"x":0,"x2":2,"k":"H"},{"r":15,"x":2,"x2":4,"k":"H"},{"r":15,"x":4,"x2":6,"k":"H"},{"r":15,"x":6,"x2":8,"k":"H"},{"r":15,"x":8,"x2":10,"k":"H"},{"r":15,"x":10,"x2":12,"k":"H"},{"r":15,"x":12,"x2":14,"k":"H"},{"r":15,"x":14,"x2":16,"k":"H"},{"r":15,"x":16,"x2":18,"k":"H"},{"r":15,"x":18,"x2":20,"k":"H"},{"r":15,"x":20,"x2":22,"k":"H"},{"r":15,"x":22,"x2":24,"k":"H"},{"r":15,"x":24,"x2":26,"k":"H"},{"r":15,"x":26,"x2":28,"k":"H"},{"r":15,"x":28,"x2":30,"k":"H"},{"r":15,"x":30,"x2":32,"k":"H"},{"r":15,"x":32,"x2":34,"k":"H"},{"r":15,"x":34,"x2":36,"k":"H"},{"r":15,"x":36,"x2":38,"k":"H"},{"r":15,"x":38,"x2":40,"k":"H"},
{"r":16,"x":1,"x2":3,"k":"H"},{"r":16,"x":3,"x2":5,"k":"H"},{"r":16,"x":5,"x2":7,"k":"H"},{"r":16,"x":7,"x2":9,"k":"H"},{"r":16,"x":9,"x2":11,"k":"H"},{"r":16,"x":11,"x2":13,"k":"H"},{"r":16,"x":13,"x2":15,"k":"H"},{"r":16,"x":15,"x2":17,"k":"H"},{"r":16,"x":17,"x2":19,"k":"H"},{"r":16,"x":19,"x2":21,"k":"H"},{"r":16,"x":21,"x2":23,"k":"H"},{"r":16,"x":23,"x2":25,"k":"H"},{"r":16,"x":25,"x2":27,"k":"H"},{"r":16,"x":27,"x2":29,"k":"H"},{"r":16,"x":29,"x2":31,"k":"H"},{"r":16,"x":31,"x2":33,"k":"H"},{"r":16,"x":33,"x2":35,"k":"H"},{"r":16,"x":35,"x2":37,"k":"H"},{"r":16,"x":37,"x2":39,"k":"H"},
{"r":17,"x":0,"x2":2,"k":"H"},{"r":17,"x":2,"x2":4,"k":"H"},{"r":17,"x":4,"x2":6,"k":"H"},{"r":17,"x":6,"x2":8,"k":"H"},{"r":17,"x":8,"x2":10,"k":"H"},{"r":17,"x":10,"x2":12,"k":"H"},{"r":17,"x":12,"x2":14,"k":"H"},{"r":17,"x":14,"x2":16,"k":"H"},{"r":17,"x":16,"x2":18,"k":"H"},{"r":17,"x":18,"x2":20,"k":"H"},{"r":17,"x":20,"x2":22,"k":"H"},{"r":17,"x":22,"x2":24,"k":"H"},{"r":17,"x":24,"x2":26,"k":"H"},{"r":17,"x":26,"x2":28,"k":"H"},{"r":17,"x":28,"x2":30,"k":"H"},{"r":17,"x":30,"x2":32,"k":"H"},{"r":17,"x":32,"x2":34,"k":"H"},{"r":17,"x":34,"x2":36,"k":"H"},{"r":17,"x":36,"x2":38,"k":"H"},
{"r":18,"x":1,"x2":3,"k":"H"},{"r":18,"x":3,"x2":5,"k":"H"},{"r":18,"x":5,"x2":7,"k":"H"},{"r":18,"x":7,"x2":9,"k":"H"},{"r":18,"x":9,"x2":11,"k":"H"},{"r":18,"x":11,"x2":13,"k":"H"},{"r":18,"x":13,"x2":15,"k":"H"},{"r":18,"x":15,"x2":17,"k":"H"},{"r":18,"x":17,"x2":19,"k":"H"},{"r":18,"x":19,"x2":21,"k":"H"},{"r":18,"x":21,"x2":23,"k":"H"},{"r":18,"x":23,"x2":25,"k":"H"},{"r":18,"x":25,"x2":27,"k":"H"},{"r":18,"x":27,"x2":29,"k":"H"},{"r":18,"x":29,"x2":31,"k":"H"},{"r":18,"x":31,"x2":33,"k":"H"},{"r":18,"x":33,"x2":35,"k":"H"},{"r":18,"x":35,"x2":37,"k":"H"},{"r":18,"x":37,"x2":39,"k":"H"},
{"r":19,"x":0,"x2":2,"k":"H"},{"r":19,"x":2,"x2":4,"k":"H"},{"r":19,"x":4,"x2":6,"k":"H"},{"r":19,"x":6,"x2":8,"k":"H"},{"r":19,"x":8,"x2":10,"k":"H"},{"r":19,"x":10,"x2":12,"k":"H"},{"r":19,"x":12,"x2":14,"k":"H"},{"r":19,"x":14,"x2":16,"k":"H"},{"r":19,"x":16,"x2":18,"k":"H"},{"r":19,"x":18,"x2":20,"k":"H"},{"r":19,"x":20,"x2":22,"k":"H"},{"r":19,"x":22,"x2":24,"k":"H"},{"r":19,"x":24,"x2":26,"k":"H"},{"r":19,"x":26,"x2":28,"k":"H"},{"r":19,"x":28,"x2":30,"k":"H"},{"r":19,"x":30,"x2":32,"k":"H"},{"r":19,"x":32,"x2":34,"k":"H"},{"r":19,"x":34,"x2":36,"k":"H"},{"r":19,"x":36,"x2":38,"k":"H"},
{"r":20,"x":3,"x2":5,"k":"H"},{"r":20,"x":5,"x2":7,"k":"H"},{"r":20,"x":7,"x2":9,"k":"H"},{"r":20,"x":9,"x2":11,"k":"H"},{"r":20,"x":11,"x2":13,"k":"H"},{"r":20,"x":13,"x2":15,"k":"H"},{"r":20,"x":15,"x2":17,"k":"H"},{"r":20,"x":17,"x2":19,"k":"H"},{"r":20,"x":19,"x2":21,"k":"H"},{"r":20,"x":21,"x2":23,"k":"H"},{"r":20,"x":23,"x2":25,"k":"H"},{"r":20,"x":25,"x2":27,"k":"H"},{"r":20,"x":27,"x2":29,"k":"H"},{"r":20,"x":29,"x2":31,"k":"H"},{"r":20,"x":31,"x2":33,"k":"H"},{"r":20,"x":33,"x2":35,"k":"H"},
{"r":21,"x":6,"x2":8,"k":"H"},{"r":21,"x":8,"x2":10,"k":"H"},{"r":21,"x":10,"x2":12,"k":"H"},{"r":21,"x":12,"x2":14,"k":"H"},{"r":21,"x":14,"x2":16,"k":"H"},{"r":21,"x":16,"x2":18,"k":"H"},{"r":21,"x":18,"x2":20,"k":"H"},{"r":21,"x":20,"x2":22,"k":"H"},{"r":21,"x":22,"x2":24,"k":"H"},{"r":21,"x":24,"x2":26,"k":"H"},{"r":21,"x":26,"x2":28,"k":"H"},{"r":21,"x":28,"x2":30,"k":"H"},{"r":21,"x":30,"x2":32,"k":"H"},{"r":21,"x":32,"x2":34,"k":"H"},
{"r":22,"x":9,"x2":11,"k":"H"},{"r":22,"x":11,"x2":13,"k":"H"},{"r":22,"x":13,"x2":15,"k":"H"},{"r":22,"x":15,"x2":17,"k":"H"},{"r":22,"x":17,"x2":19,"k":"H"},{"r":22,"x":19,"x2":21,"k":"H"},{"r":22,"x":21,"x2":23,"k":"H"},{"r":22,"x":23,"x2":25,"k":"H"},{"r":22,"x":25,"x2":27,"k":"H"},{"r":22,"x":27,"x2":29,"k":"H"},{"r":22,"x":29,"x2":31,"k":"H"},
{"r":23,"x":10,"x2":12,"k":"H"},{"r":23,"x":12,"x2":14,"k":"H"},{"r":23,"x":14,"x2":16,"k":"H"},{"r":23,"x":16,"x2":18,"k":"H"},{"r":23,"x":18,"x2":20,"k":"H"},{"r":23,"x":20,"x2":22,"k":"H"},{"r":23,"x":22,"x2":24,"k":"H"},{"r":23,"x":24,"x2":26,"k":"H"},{"r":23,"x":26,"x2":28,"k":"H"},{"r":23,"x":28,"x2":30,"k":"H"},
{"r":24,"x":11,"x2":13,"k":"H"},{"r":24,"x":13,"x2":15,"k":"H"},{"r":24,"x":15,"x2":17,"k":"H"},{"r":24,"x":17,"x2":19,"k":"H"},{"r":24,"x":19,"x2":21,"k":"H"},{"r":24,"x":21,"x2":23,"k":"H"},{"r":24,"x":23,"x2":25,"k":"H"},{"r":24,"x":25,"x2":27,"k":"H"},
{"r":25,"x":14,"x2":16,"k":"H"},{"r":25,"x":16,"x2":18,"k":"H"},{"r":25,"x":18,"x2":20,"k":"H"},{"r":25,"x":20,"x2":22,"k":"H"},{"r":25,"x":22,"x2":24,"k":"H"}
],
"la":[
{"t":"a","x":1.62,"r":-0.65,"g":"id"},
{"t":"anterior","x":22.9,"r":-0.84,"g":"ap"},
{"t":"posterior","x":23.84,"r":36.52,"g":"ap"},
{"t":"dorsal","x":1.67,"r":12.59,"g":"dv"},
{"t":"ventral","x":44.45,"r":12.36,"g":"dv"}
],
"lb":[
{"t":"b","x":2.83,"r":-0.64,"g":"id"},
{"t":"anterior","x":19.15,"r":-0.78,"g":"ap"},
{"t":"posterior","x":20.63,"r":26.3,"g":"ap"},
{"t":"dorsal","x":2.02,"r":8.95,"g":"dv"},
{"t":"ventral","x":39.45,"r":8.79,"g":"dv"}
]
}
}
